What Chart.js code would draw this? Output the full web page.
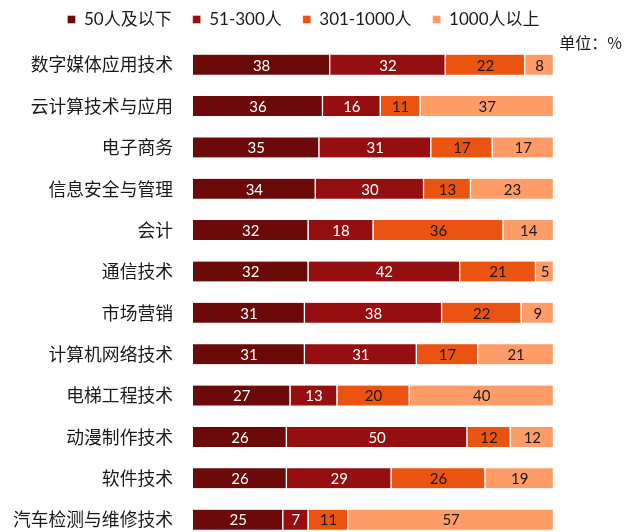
<!DOCTYPE html>
<html>
<head>
<meta charset="utf-8">
<script src="https://cdn.jsdelivr.net/npm/chart.js@4/dist/chart.umd.min.js"></script>
<style>
  html, body { margin: 0; padding: 0; background: #fff; overflow: hidden; }
  #wrap { width: 624px; height: 551px; }
</style>
</head>
<body>
<div id="wrap"><canvas id="major_chart" width="624" height="551"></canvas></div>
<script>
var majors = ['数字媒体应用技术', '云计算技术与应用', '电子商务', '信息安全与管理', '会计', '通信技术',
    '市场营销', '计算机网络技术', '电梯工程技术', '动漫制作技术', '软件技术', '汽车检测与维修技术'];
var sizeNames = ['50人及以下', '51-300人', '301-1000人', '1000人以上'];
var small = [38, 36, 35, 34, 32, 32, 31, 31, 27, 26, 26, 25];
var medium = [32, 16, 31, 30, 18, 42, 38, 31, 13, 50, 29, 7];
var large = [22, 11, 17, 13, 36, 21, 22, 17, 20, 12, 26, 11];
var huge = [8, 37, 17, 23, 14, 5, 9, 21, 40, 12, 19, 57];
var unitText = '单位：%';

var fills = ['#6c0a0a', '#950f11', '#ea5310', '#fe9c67'];
var labelColors = ['#ffffff', '#ffffff', '#1a1a1a', '#1a1a1a'];

// values written in the middle of each segment
var valueLabels = {
    id: 'valueLabels',
    afterDatasetsDraw: function(chart) {
        var ctx = chart.ctx;
        ctx.save();
        ctx.font = '15px Lato, "Noto Sans CJK SC", sans-serif';
        ctx.textAlign = 'center';
        ctx.textBaseline = 'middle';
        chart.data.datasets.forEach(function(ds, i) {
            var meta = chart.getDatasetMeta(i);
            ctx.fillStyle = labelColors[i];
            meta.data.forEach(function(bar, j) {
                ctx.fillText(String(ds.data[j]), (bar.x + bar.base) / 2, bar.y + 1);
            });
        });
        // unit note above the right end
        ctx.font = '16px "Noto Sans CJK SC", sans-serif';
        ctx.fillStyle = '#1a1a1a';
        ctx.textAlign = 'right';
        ctx.fillText(unitText, chart.width - 2, chart.chartArea.top - 1);
        ctx.restore();
    }
};

var sets = [small, medium, large, huge].map(function(vals, i) {
    return {
        label: sizeNames[i],
        data: vals,
        backgroundColor: fills[i],
        borderColor: '#ffffff',
        borderWidth: {left: 0, right: 1.5, top: 0, bottom: 0},
        borderSkipped: false,
        barThickness: 20
    };
});

new Chart(document.getElementById('major_chart'), {
    type: 'bar',
    data: { labels: majors, datasets: sets },
    options: {
        indexAxis: 'y',
        responsive: false,
        animation: false,
        layout: { padding: { top: -10, left: 0, right: 17, bottom: 0 } },
        plugins: {
            legend: {
                position: 'top',
                labels: {
                    boxWidth: 8,
                    boxHeight: 8,
                    padding: 21,
                    color: '#1a1a1a',
                    font: { size: 17, family: 'Lato, "Noto Sans CJK SC", sans-serif' }
                }
            },
            tooltip: { enabled: false }
        },
        scales: {
            x: {
                stacked: true,
                position: 'top',
                min: 0,
                max: 100,
                grid: { display: false },
                border: { display: false },
                ticks: { display: false },
                afterFit: function(s) { s.height = 6; }
            },
            y: {
                stacked: true,
                grid: { display: false, drawTicks: true, tickLength: 20 },
                border: { display: false },
                ticks: {
                    padding: 0,
                    color: '#1a1a1a',
                    font: { size: 17.8, family: '"Noto Sans CJK SC", sans-serif' }
                },
                afterFit: function(s) { s.width = 193; }
            },
            pad: {
                type: 'linear',
                axis: 'y',
                position: 'right',
                grid: { display: false },
                border: { display: false },
                ticks: { display: false },
                afterFit: function(s) { s.width = 53; }
            }
        }
    },
    plugins: [valueLabels]
});
</script>
</body>
</html>
